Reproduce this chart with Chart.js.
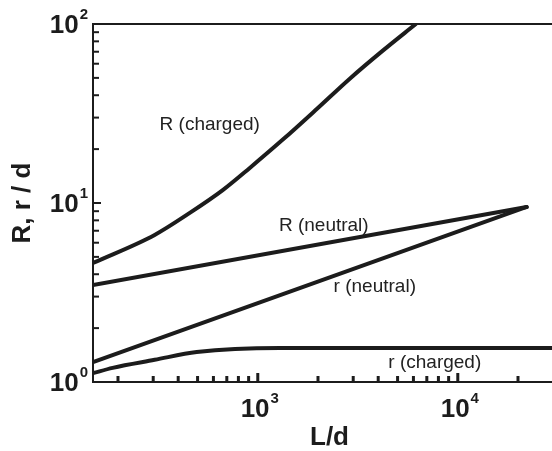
<!DOCTYPE html>
<html>
<head>
<meta charset="utf-8">
<script src="https://cdn.jsdelivr.net/npm/chart.js@4/dist/chart.umd.min.js"></script>
<style>
  html, body { margin: 0; padding: 0; background: #fff; }
  #wrap { width: 552px; height: 451px; }
</style>
</head>
<body>
<div id="wrap"><canvas id="myChart" width="552" height="451"></canvas></div>
<script>
// values (L/d on x, R/d or r/d on y)
let chargedR_ld = [150, 305, 457, 668, 912, 1334, 1972, 2884, 4217, 6166];
let chargedR_val = [4.62, 6.63, 8.8, 11.8, 15.7, 22.6, 33.5, 49.5, 71, 100];
let neutralR_ld = [150, 22100];
let neutralR_val = [3.48, 9.5];
let neutralr_ld = [150, 22100];
let neutralr_val = [1.29, 9.5];
let chargedr_ld = [150, 188, 305, 495, 1288, 29580];
let chargedr_val = [1.12, 1.2, 1.33, 1.47, 1.55, 1.55];

let curveNames = ['R (charged)', 'R (neutral)', 'r (neutral)', 'r (charged)'];
let xTickExps = [3, 4];
let yTickExps = [0, 1, 2];
let xTitle = 'L/d';
let yTitle = 'R, r / d';

// where each curve name sits, in data units
let labelSpots = [[575, 27.5], [2138, 7.45], [3846, 3.4], [7674, 1.28]];

const ink = '#1c1c1c';
const fontFam = '"Liberation Sans", Arial, Helvetica, sans-serif';

function pairs(xs, ys) {
	let out = [];
	for (let i = 0; i < xs.length; i++) {
		out.push({x: xs[i], y: ys[i]});
	}
	return out;
}

function curve(label, xs, ys, smooth) {
	return {
		label: label,
		data: pairs(xs, ys),
		borderColor: ink,
		borderWidth: 4,
		pointRadius: 0,
		fill: false,
		cubicInterpolationMode: smooth ? 'monotone' : 'default',
		tension: 0,
		borderCapStyle: 'round',
		borderJoinStyle: 'round'
	};
}

// axes, ticks, labels and titles drawn by hand through the chart scales
const decor = {
	id: 'decor',
	afterDatasetsDraw(chart) {
		const c = chart.ctx;
		const a = chart.chartArea;
		const xs = chart.scales.x;
		const ys = chart.scales.y;
		c.save();
		c.strokeStyle = ink;
		c.fillStyle = ink;

		// frame: left, top, bottom
		c.lineWidth = 2;
		c.beginPath();
		c.moveTo(a.right + 2, a.top);
		c.lineTo(a.left, a.top);
		c.lineTo(a.left, a.bottom);
		c.lineTo(a.right + 2, a.bottom);
		c.stroke();

		// y ticks (inward)
		for (let e = 0; e < 2; e++) {
			for (let m = 2; m <= 10; m++) {
				let v = m * Math.pow(10, e);
				if (v >= 100) continue;
				let py = ys.getPixelForValue(v);
				let len = (m === 10) ? 8 : 6;
				c.lineWidth = 2;
				c.beginPath();
				c.moveTo(a.left, py);
				c.lineTo(a.left + len, py);
				c.stroke();
			}
		}

		// x ticks (inward)
		for (let e = 2; e <= 4; e++) {
			for (let m = 1; m <= 9; m++) {
				let v = m * Math.pow(10, e);
				if (v <= xs.min || v >= xs.max) continue;
				let px = xs.getPixelForValue(v);
				let major = (m === 1);
				c.lineWidth = 3;
				c.beginPath();
				c.moveTo(px, a.bottom);
				c.lineTo(px, a.bottom - (major ? 9 : 6));
				c.stroke();
			}
		}

		// power-of-ten labels
		function powLabel(exp, x, y, align) {
			c.font = 'bold 26px ' + fontFam;
			let baseW = c.measureText('10').width;
			c.font = 'bold 15px ' + fontFam;
			let supW = c.measureText(String(exp)).width;
			let left;
			if (align === 'right') left = x - baseW - supW - 1;
			else left = x - (baseW + supW + 1) / 2;
			c.textBaseline = 'middle';
			c.textAlign = 'left';
			c.font = 'bold 26px ' + fontFam;
			c.fillText('10', left, y);
			c.font = 'bold 15px ' + fontFam;
			c.fillText(String(exp), left + baseW + 1, y - 11);
		}
		yTickExps.forEach(function (e) {
			powLabel(e, a.left - 5, ys.getPixelForValue(Math.pow(10, e)) + 2, 'right');
		});
		xTickExps.forEach(function (e) {
			powLabel(e, xs.getPixelForValue(Math.pow(10, e)) + 2, a.bottom + 28, 'center');
		});

		// axis titles
		c.font = 'bold 26px ' + fontFam;
		c.textAlign = 'center';
		c.textBaseline = 'middle';
		c.fillText(xTitle, (a.left + a.right) / 2 + 7, a.bottom + 56);
		c.save();
		c.translate(23, (a.top + a.bottom) / 2);
		c.rotate(-Math.PI / 2);
		c.fillText(yTitle, 0, 0);
		c.restore();

		// curve names
		c.font = '19px ' + fontFam;
		c.fillStyle = '#222';
		for (let i = 0; i < curveNames.length; i++) {
			let px = xs.getPixelForValue(labelSpots[i][0]);
			let py = ys.getPixelForValue(labelSpots[i][1]);
			c.fillText(curveNames[i], px, py);
		}
		c.restore();
	}
};

let ctx = document.getElementById('myChart');
let myChart = new Chart(ctx, {
	type: 'line',
	data: {
		datasets: [
			curve(curveNames[0], chargedR_ld, chargedR_val, true),
			curve(curveNames[1], neutralR_ld, neutralR_val, false),
			curve(curveNames[2], neutralr_ld, neutralr_val, false),
			curve(curveNames[3], chargedr_ld, chargedr_val, true)
		]
	},
	options: {
		responsive: false,
		devicePixelRatio: 1,
		animation: false,
		layout: { padding: { left: 93, top: 24, right: 0, bottom: 69 } },
		plugins: { legend: { display: false }, tooltip: { enabled: false } },
		scales: {
			x: {
				type: 'logarithmic',
				display: false,
				min: 150,
				max: 29580
			},
			y: {
				type: 'logarithmic',
				display: false,
				min: 1,
				max: 100
			}
		}
	},
	plugins: [decor]
});
</script>
</body>
</html>
